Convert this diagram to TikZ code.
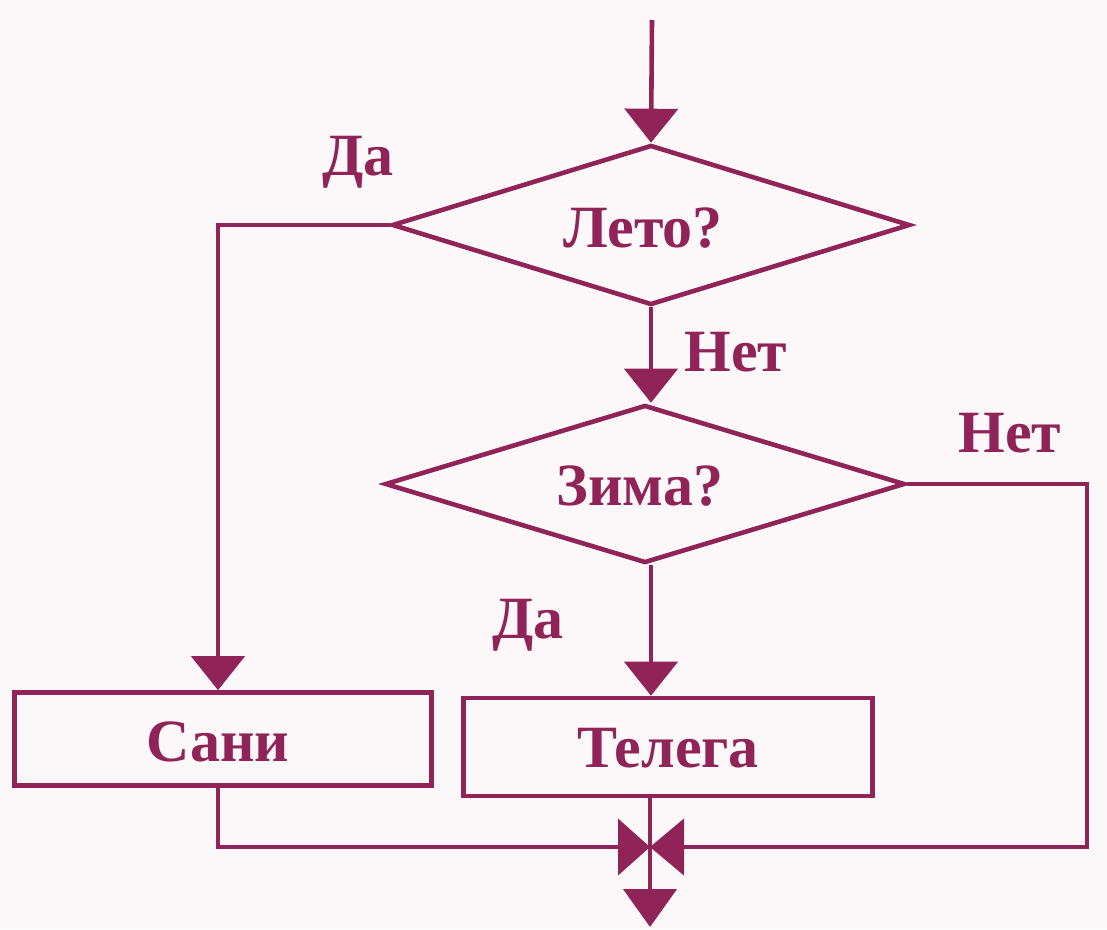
\documentclass[tikz,border=0pt]{standalone}
\usepackage{fontspec}
\setmainfont{Liberation Serif}
\usetikzlibrary{arrows.meta,shapes.geometric}
\definecolor{ink}{RGB}{144,36,88}
\definecolor{paper}{RGB}{252,248,250}
\begin{document}
\begin{tikzpicture}[x=1pt,y=-1pt,
  every node/.style={text=ink,font=\fontsize{60}{66}\selectfont\bfseries},
  line/.style={draw=ink,line width=4.6pt},
  arr/.style={line,-{Triangle[width=53pt,length=34pt]}},
  dec/.style={line,shape=diamond,inner sep=0pt},
  box/.style={line,rectangle,inner sep=0pt},
  lbl/.style={inner sep=0pt}]
\fill[paper] (0,0) rectangle (1107,929);
\useasboundingbox (0,0) rectangle (1107,929);
\coordinate (start) at (652,20);
\node[dec,minimum width=518pt,minimum height=160pt] (d1) at (651,225) {};
\node[lbl] at (643,228) {Лето?};
\node[dec,minimum width=520pt,minimum height=158pt] (d2) at (645,484) {};
\node[lbl] at (640,486) {Зима?};
\node[box,minimum width=417pt,minimum height=93pt] (sani) at (223,739) {};
\node[lbl] at (218,742) {Сани};
\node[box,minimum width=409pt,minimum height=98pt] (telega) at (668,747) {};
\node[lbl] at (668,748) {Телега};
\node[lbl] (l1) at (358,162) {Да};
\node[lbl] (l2) at (736,352) {Нет};
\node[lbl] (l3) at (1010,433) {Нет};
\node[lbl] (l4) at (528,625) {Да};
\coordinate (j) at (650,847);
\coordinate (rc) at (1087,847);
\coordinate (lc) at (218,847);
\coordinate (e) at (650,927);
\draw[arr] (start) -- (d1.north);
\draw[arr] (d1.south) -- (d2.north -| d1.south);
\draw[arr] (d1.west) -| (lc |- sani.north);
\draw[arr] (d2.south -| d1.south) -- (d1.south |- telega.north);
\draw[line,-{Triangle[width=56pt,length=34pt]}] (d2.east) -| (rc) -- (j);
\draw[line,-{Triangle[width=56pt,length=32pt]}] (lc |- sani.south) -- (lc) -- (j);
\draw[line,-{Triangle[width=53pt,length=38pt]}] (j |- telega.south) -- (e);
\end{tikzpicture}
\end{document}
